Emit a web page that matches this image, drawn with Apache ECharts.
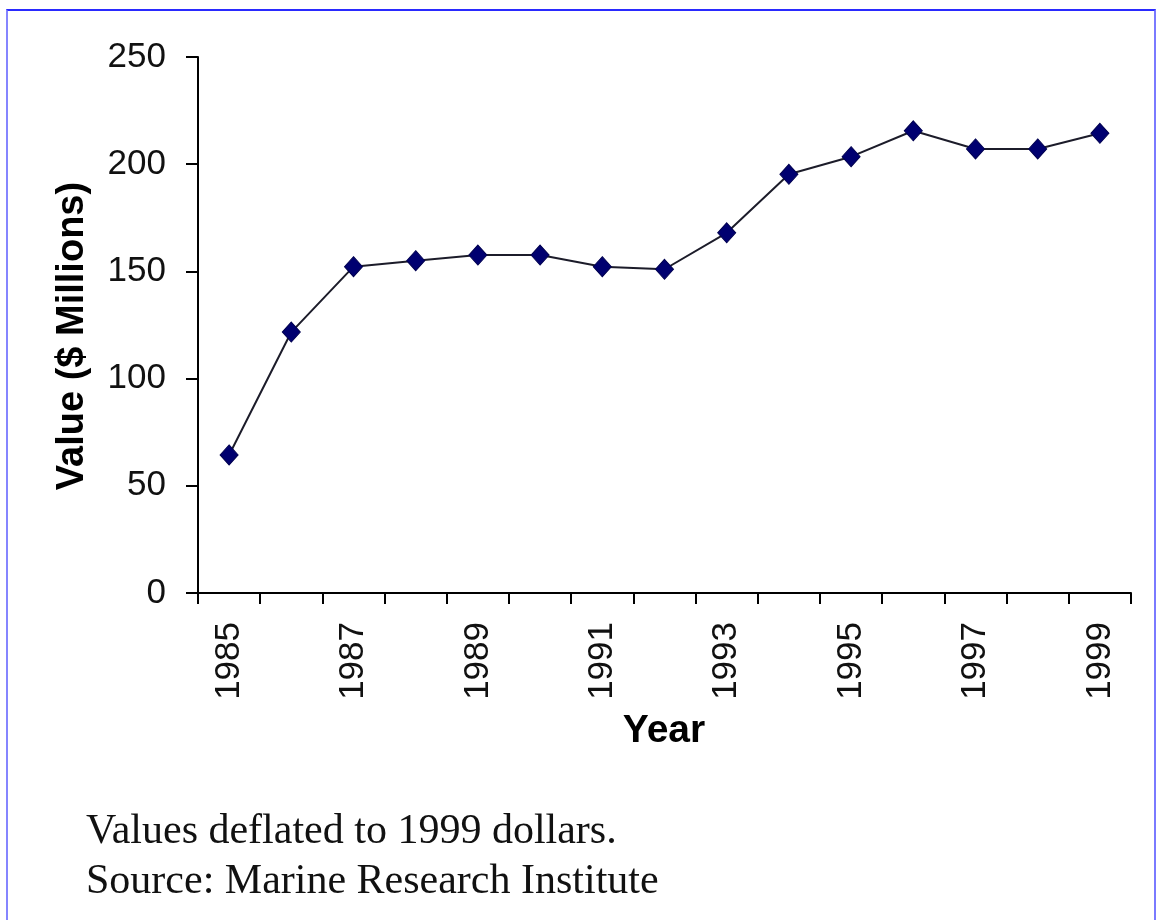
<!DOCTYPE html>
<html>
<head>
<meta charset="utf-8">
<script src="https://cdn.jsdelivr.net/npm/echarts@6/dist/echarts.min.js"></script>
<style>
  html, body { margin: 0; padding: 0; background: #fff; }
  #wrap { position: relative; width: 1158px; height: 920px; }
  #chart { position: absolute; left: 0; top: 0; width: 1158px; height: 920px; }
  #frame { position: absolute; left: 6px; top: 9px; width: 1146px; height: 930px;
           border-top: 2px solid #2a2aff; border-left: 2px solid #8585ff; border-right: 2px solid #7a7aff;
           pointer-events: none; }
</style>
</head>
<body>
<div id="wrap">
  <div id="chart"></div>
  <div id="frame"></div>
</div>
<script>
const years = ['1985','1986','1987','1988','1989','1990','1991','1992','1993','1994','1995','1996','1997','1998','1999'];
const values = [64.4, 121.7, 152.2, 155.0, 157.6, 157.6, 152.2, 151.0, 168.0, 195.3, 203.5, 215.6, 207.1, 207.1, 214.4];
const yTicks = { min: 0, max: 250, interval: 50 };
const yTitle = 'Value ($ Millions)';
const xTitle = 'Year';
const notes = ['Values deflated to 1999 dollars.', 'Source: Marine Research Institute'];

const chart = echarts.init(document.getElementById('chart'), null, { renderer: 'canvas' });
const tickFont = "'Liberation Sans Narrow', 'Liberation Sans', Arial, sans-serif";
chart.setOption({
  animation: false,
  backgroundColor: '#fff',
  grid: { left: 198, top: 57, right: 27, bottom: 327, containLabel: false },
  xAxis: {
    type: 'category',
    data: years,
    boundaryGap: true,
    axisLine: { lineStyle: { color: '#000', width: 2 } },
    axisTick: { show: true, interval: 0, length: 11, lineStyle: { color: '#000', width: 2 } },
    axisLabel: { interval: 1, rotate: 90, margin: 29, fontFamily: tickFont, fontSize: 35, color: '#111' },
    splitLine: { show: false }
  },
  yAxis: {
    type: 'value',
    min: yTicks.min, max: yTicks.max, interval: yTicks.interval,
    axisLine: { show: true, lineStyle: { color: '#000', width: 2 } },
    axisTick: { show: true, length: 12, lineStyle: { color: '#000', width: 2 } },
    axisLabel: { margin: 32, fontFamily: tickFont, fontSize: 35, color: '#111' },
    splitLine: { show: false }
  },
  series: [{
    type: 'line',
    data: values,
    symbol: 'diamond',
    symbolSize: [18, 20],
    lineStyle: { color: '#1c1c2a', width: 2 },
    itemStyle: { color: '#000070', borderColor: '#000050', borderWidth: 1 }
  }],
  graphic: [
    { type: 'text', x: 73, y: 336, rotation: Math.PI / 2,
      style: { text: yTitle, font: "bold 38px 'Liberation Sans', Arial, sans-serif", fill: '#000', align: 'center', verticalAlign: 'middle' } },
    { type: 'text', x: 664, y: 731,
      style: { text: xTitle, font: "bold 39px 'Liberation Sans', Arial, sans-serif", fill: '#000', align: 'center', verticalAlign: 'middle' } },
    { type: 'text', x: 86, y: 832,
      style: { text: notes[0], font: "42px 'Liberation Serif', 'Times New Roman', serif", fill: '#111', align: 'left', verticalAlign: 'middle' } },
    { type: 'text', x: 86, y: 882,
      style: { text: notes[1], font: "42px 'Liberation Serif', 'Times New Roman', serif", fill: '#111', align: 'left', verticalAlign: 'middle' } }
  ]
});
</script>
</body>
</html>
